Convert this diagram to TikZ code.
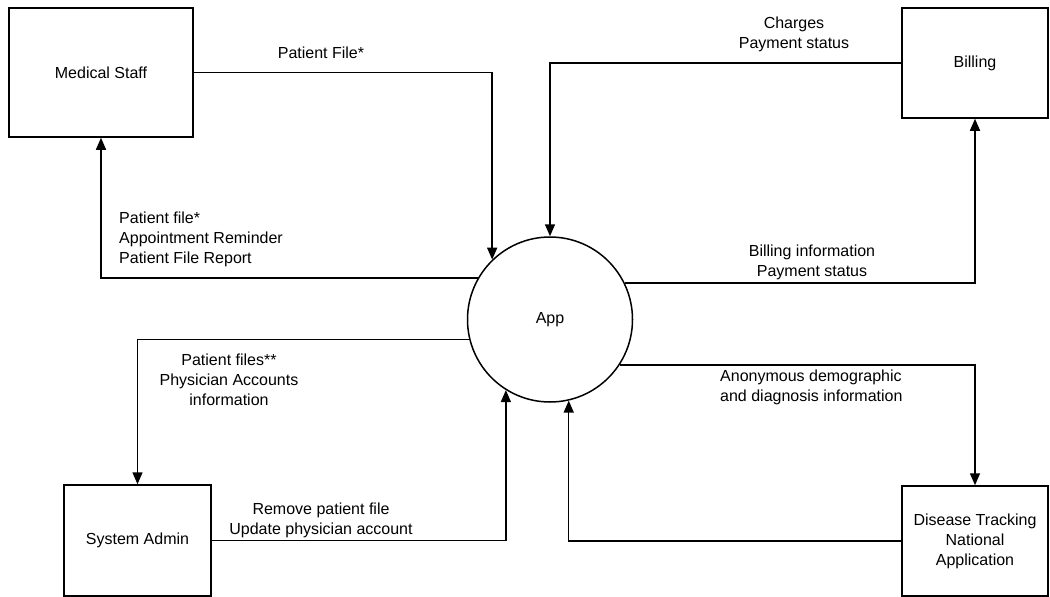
\documentclass[tikz,border=0pt]{standalone}
\usepackage{fontspec}
\setmainfont{Liberation Sans}
\usetikzlibrary{arrows.meta}

\begin{document}
\begin{tikzpicture}
        [x=1pt, y=-1pt,
        every node/.style={font=\fontsize{16}{20}\selectfont},
        entity/.style={draw, line width=1.5pt, rectangle, align=center},
        process/.style={draw, line width=1.5pt, circle, minimum size=165pt},
        flow/.style={line width=1.5pt, -{Triangle[length=12pt,width=10pt]}},
        lbl/.style={align=center, inner sep=0pt}]

    \useasboundingbox (0,0) rectangle (1050,597);

    % external entities and the process
    \node[entity, minimum width=184pt, minimum height=129pt] (staff) at (101,72.5) {Medical Staff};
    \node[entity, minimum width=146pt, minimum height=110pt] (billing) at (975,63) {Billing};
    \node[entity, minimum width=147pt, minimum height=111pt] (admin) at (137.5,540.5) {System Admin};
    \node[entity, minimum width=146pt, minimum height=110pt] (disease) at (975,541)
        {Disease Tracking\\National\\Application};
    \node[process] (app) at (550,319.5) {App};

    % data flows
    \draw[flow] (staff.east) -| (app.134);
    \draw[flow] (app.150.6) -| (staff.south);
    \draw[flow] (billing.west) -| (app.north);
    \draw[flow] (app.26.3) -| (billing.south);
    \draw[flow] (app.194.4) -| (admin.north);
    \draw[flow] (admin.east) -| (app.238.6);
    \draw[flow] (app.327.4) -| (disease.north);
    \draw[flow] (disease.west) -| (app.283.3);

    % flow labels
    \node[lbl] (lstaffin) at (321,53) {Patient File*};
    \node[lbl, align=left, anchor=west] (lstaffout) at (119,239)
        {Patient file*\\Appointment Reminder\\Patient File Report};
    \node[lbl] (lbillout) at (794,34) {Charges\\Payment status};
    \node[lbl] (lbillin) at (812,262) {Billing information\\Payment status};
    \node[lbl] (ladminout) at (229,380) {Patient files**\\Physician Accounts\\information};
    \node[lbl] (ladminin) at (321,520) {Remove patient file\\Update physician account};
    \node[lbl, align=left, anchor=west] (ldisin) at (720,387)
        {Anonymous demographic\\and diagnosis information};
\end{tikzpicture}
\end{document}
